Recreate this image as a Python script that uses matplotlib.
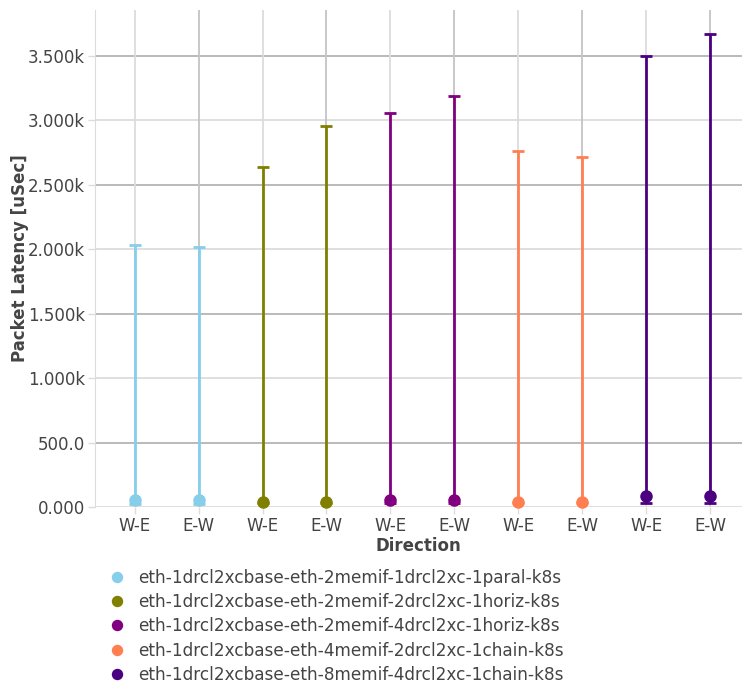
"""Packet latency per direction, with min/max error bars"""
import matplotlib
matplotlib.use("Agg")
import matplotlib.pyplot as plt
import numpy as np

directions = ["W-E", "E-W"]
tests = [
    "eth-1drcl2xcbase-eth-2memif-1drcl2xc-1paral-k8s",
    "eth-1drcl2xcbase-eth-2memif-2drcl2xc-1horiz-k8s",
    "eth-1drcl2xcbase-eth-2memif-4drcl2xc-1horiz-k8s",
    "eth-1drcl2xcbase-eth-4memif-2drcl2xc-1chain-k8s",
    "eth-1drcl2xcbase-eth-8memif-4drcl2xc-1chain-k8s",
]
colors = ["#87ceeb", "#808000", "#800080", "#ff7f50", "#4b0082"]

# avg / min / max latency [uSec] per test, order W-E, E-W
avg_lat = [[54, 54], [39, 39], [54, 52], [40, 40], [82, 82]]
min_lat = [[27, 27], [30, 30], [30, 30], [30, 30], [31, 31]]
max_lat = [[2033, 2013], [2638, 2956], [3057, 3189], [2762, 2715], [3500, 3670]]

y_ticks = [0, 500, 1000, 1500, 2000, 2500, 3000, 3500]
y_tick_labels = ["0.000", "500.0", "1.000k", "1.500k", "2.000k", "2.500k", "3.000k", "3.500k"]

fig = plt.figure(figsize=(7.44, 6.87), dpi=100)
ax = fig.add_axes([95 / 744, 1 - 507 / 687, 647 / 744, 497 / 687])

# grid lines (alternating shades like the original)
for i, t in enumerate(y_ticks[1:]):
    ax.axhline(t, color="#b4b4b4" if i % 2 == 0 else "#dcdcdc", lw=1.3, zorder=0)
n_cat = len(tests) * len(directions)
for i in range(n_cat):
    ax.axvline(i, color="#dcdcdc" if i % 2 == 0 else "#c4c4c4", lw=1.3, zorder=0)
ax.axhline(0, color="#dcdcdc", lw=1.3, zorder=0)

x_labels = []
for k, (name, col) in enumerate(zip(tests, colors)):
    xs = np.arange(len(directions)) + k * len(directions)
    avg = np.array(avg_lat[k])
    lower = avg - np.array(min_lat[k])
    upper = np.array(max_lat[k]) - avg
    ax.errorbar(xs, avg, yerr=[lower, upper], fmt="none", ecolor=col,
                elinewidth=2, capsize=4, capthick=2, zorder=3)
    ax.plot(xs, avg, "o", color=col, ms=8, zorder=4, label=name, clip_on=False)
    x_labels += directions

ax.set_xlim(-0.62, 9.5)
ax.set_ylim(0, 3855)
ax.set_xticks(range(n_cat))
ax.set_xticklabels(x_labels)
ax.set_yticks(y_ticks)
ax.set_yticklabels(y_tick_labels)
ax.tick_params(colors="#444444", labelsize=12, length=5, width=1, pad=2)
ax.tick_params(axis="both", color="#dcdcdc")

for side in ["top", "right", "bottom"]:
    ax.spines[side].set_visible(False)
ax.spines["left"].set_color("#dcdcdc")

ax.set_xlabel("Direction", fontsize=12, fontweight="bold", color="#444444")
ax.set_ylabel("Packet Latency [uSec]", fontsize=12, fontweight="bold", color="#444444")
ax.xaxis.set_label_coords(0.5, (507 - 546) / 497, transform=ax.transAxes)
ax.yaxis.set_label_coords((20 - 95) / 647, (507 - 258) / 497, transform=ax.transAxes)
ax.xaxis.label.set_va("center")
ax.yaxis.label.set_va("center")

fig.legend(loc="upper left", bbox_to_anchor=(103 / 744, 1 - 562 / 687), frameon=False,
           fontsize=12.2, labelcolor="#444444", handletextpad=0.75, labelspacing=0.37,
           borderaxespad=0, handlelength=0.9, markerscale=0.9)

fig.savefig("out.png", dpi=100)
